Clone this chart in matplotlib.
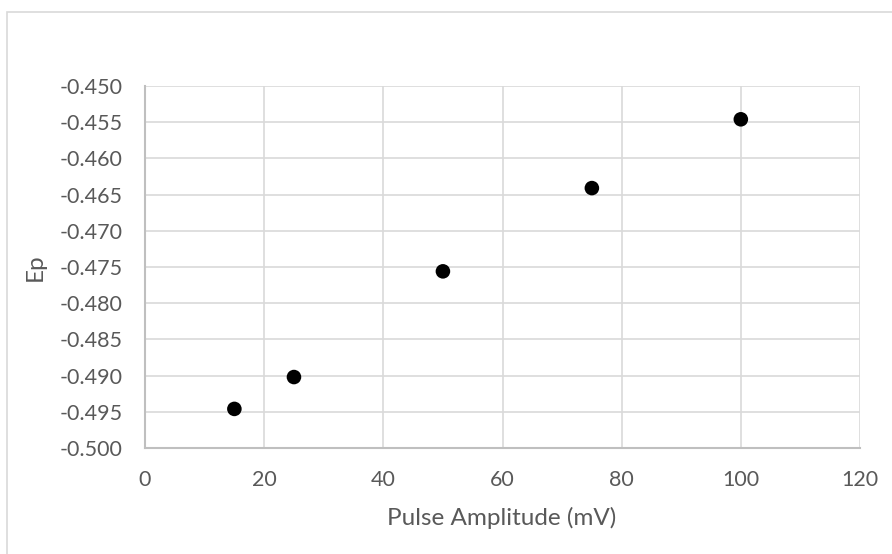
import matplotlib
matplotlib.use("Agg")
import matplotlib.pyplot as plt
from matplotlib.patches import Rectangle
from matplotlib.ticker import FixedLocator

pulse_amplitude = [15, 25, 50, 75, 100]
ep_values = [-0.4946, -0.4902, -0.4756, -0.4641, -0.4546]
x_ticks = [0, 20, 40, 60, 80, 100, 120]
y_ticks = [-0.500, -0.495, -0.490, -0.485, -0.480, -0.475, -0.470, -0.465, -0.460, -0.455, -0.450]

plt.rcParams['font.family'] = ['Lato', 'DejaVu Sans']
W, H = 892, 554
fig = plt.figure(figsize=(W / 100, H / 100), dpi=100)

left, right, top, bottom = 145, 860, 86, 448
ax = fig.add_axes([left / W, 1 - bottom / H, (right - left) / W, (bottom - top) / H])

# outer chart border
fig.patches.append(Rectangle((7 / W, -0.1), 2, (1 - 12 / H) + 0.1, transform=fig.transFigure,
                             fill=False, edgecolor='#d9d9d9', linewidth=1.2))

ax.scatter(pulse_amplitude, ep_values, s=110, color='black', zorder=3, edgecolors='none')

ax.set_xlim(0, 120)
ax.set_ylim(-0.500, -0.450)
ax.xaxis.set_major_locator(FixedLocator(x_ticks))
ax.yaxis.set_major_locator(FixedLocator(y_ticks))
ax.set_xticklabels([str(v) for v in x_ticks])
ax.set_yticklabels([f"{v:.3f}" for v in y_ticks])

ax.grid(True, color='#d9d9d9', linewidth=1.2, zorder=0)
ax.set_axisbelow(True)
for s in ['top', 'right']:
    ax.spines[s].set_visible(False)
for s in ['left', 'bottom']:
    ax.spines[s].set_color('#bfbfbf')
    ax.spines[s].set_linewidth(1.5)

ax.tick_params(axis='both', length=0, labelsize=15.5, colors='#595959')
ax.tick_params(axis='y', pad=16)
ax.tick_params(axis='x', pad=16)

fig.text(35 / W, 1 - 267 / H, 'Ep', rotation=90, ha='center', va='center',
         fontsize=17.5, color='#595959')
fig.text(501.5 / W, 1 - 518 / H, 'Pulse Amplitude (mV)', ha='center', va='center',
         fontsize=17.5, color='#595959')

fig.savefig('out.png', dpi=100)
